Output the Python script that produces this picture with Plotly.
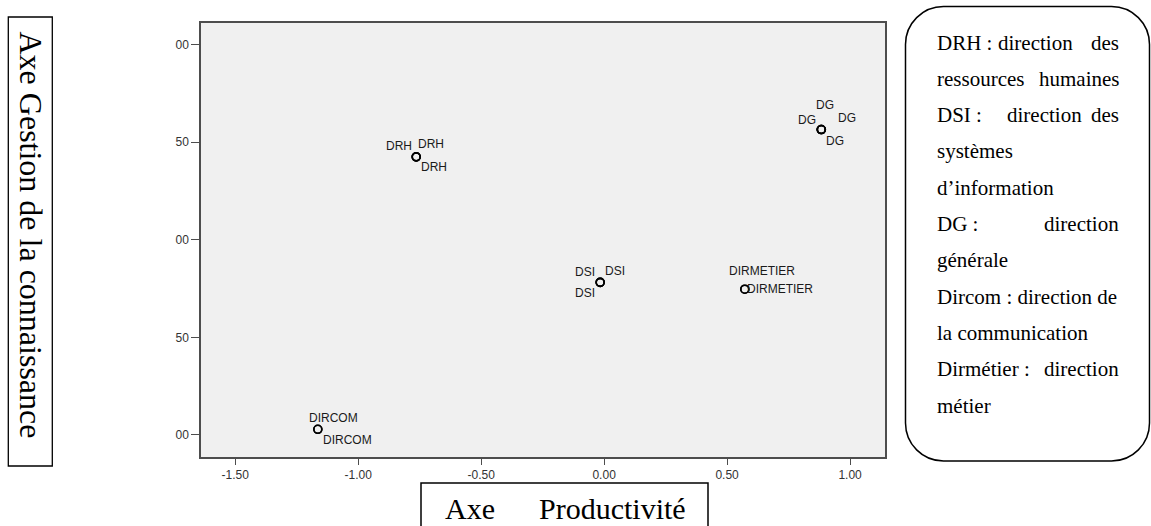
import plotly.graph_objects as go

# ---------------- data ----------------
groups = ["DRH", "DSI", "DG", "DIRCOM", "DIRMETIER"]
group_x = [-0.764, -0.016, 0.883, -1.164, 0.572]      # Axe Productivité
group_y = [0.425, -0.218, 0.565, -0.971, -0.253]      # Axe Gestion de la connaissance
group_cases = [3, 3, 4, 2, 2]                         # number of overlapping cases per group

x_tickvals = [-1.5, -1.0, -0.5, 0.0, 0.5, 1.0]
x_ticktext = ["-1.50", "-1.00", "-0.50", "0.00", "0.50", "1.00"]
y_tickvals = [1.0, 0.5, 0.0, -0.5, -1.0]
y_ticktext = ["00", "50", "00", "50", "00"]

legend_lines = [
    ["DRH :", "direction", "des"],
    ["ressources", "humaines"],
    ["DSI :", "direction", "des"],
    ["systèmes"],
    ["d\u2019information"],
    ["DG :", "direction"],
    ["générale"],
    ["Dircom : direction de"],
    ["la communication"],
    ["Dirmétier :", "direction"],
    ["métier"],
]
y_axis_title = "Axe Gestion de la connaissance"
x_axis_title = ["Axe", "Productivité"]

# ---------------- cases (one per label) ----------------
case_label, case_x, case_y = [], [], []
for g, gx, gy, n in zip(groups, group_x, group_y, group_cases):
    for _ in range(n):
        case_label.append(g)
        case_x.append(gx)
        case_y.append(gy)

# label offsets in screen pixels (styling: dx right, dy down)
label_offsets = [
    (-17.7, -10.5), (15.1, -12.4), (17.6, 10.1),              # DRH
    (-14.7, -10.0), (15.0, -11.8), (-14.7, 11.0),             # DSI
    (4.0, -25.0), (-14.0, -9.5), (25.6, -11.7), (14.0, 11.0), # DG
    (15.4, -11.3), (29.2, 11.2),                              # DIRCOM
    (16.7, -18.5), (35.3, 0.0),                               # DIRMETIER
]

# ---------------- layout geometry (pixels) ----------------
FW, FH = 1151, 526
L, R, T, B = 201, 885, 23, 457
W, H = R - L, B - T


def px(x):
    return (x - L) / W


def py(y):
    return (B - y) / H


fig = go.Figure()
fig.add_trace(go.Scatter(
    x=case_x, y=case_y, mode="markers",
    marker=dict(symbol="circle-open", size=8, color="black",
                line=dict(width=1.6, color="black")),
    hovertext=case_label, hoverinfo="text", showlegend=False,
))

annotations = []
label_font = dict(family="Liberation Sans, Arial, sans-serif", size=12, color="#1a1a1a")
for lab, cx, cy, (dx, dy) in zip(case_label, case_x, case_y, label_offsets):
    annotations.append(dict(
        x=cx, y=cy, xref="x", yref="y", text=lab, showarrow=False,
        xanchor="center", yanchor="middle", xshift=dx, yshift=-dy,
        font=label_font,
    ))

# legend box text (justified look)
serif = dict(family="Liberation Serif, Times New Roman, serif", size=21, color="black")
tx0, tx1 = 935, 1121
mid_pos = {0: 1035, 2: 1044}
for i, parts in enumerate(legend_lines):
    base = 49 + 36.3 * i
    yc = py(base - 6.5)
    annotations.append(dict(x=px(tx0), y=yc, xref="paper", yref="paper", text=parts[0],
                            showarrow=False, xanchor="left", yanchor="middle", font=serif))
    if len(parts) > 1:
        annotations.append(dict(x=px(tx1), y=yc, xref="paper", yref="paper", text=parts[-1],
                                showarrow=False, xanchor="right", yanchor="middle", font=serif))
    if len(parts) == 3:
        annotations.append(dict(x=px(mid_pos[i]), y=yc, xref="paper", yref="paper", text=parts[1],
                                showarrow=False, xanchor="center", yanchor="middle", font=serif))

# y-axis title box text (rotated)
annotations.append(dict(x=px(30.5), y=py(235), xref="paper", yref="paper", text=y_axis_title,
                        showarrow=False, textangle=90, xanchor="center", yanchor="middle",
                        font=dict(family="Liberation Serif, Times New Roman, serif", size=32, color="black")))
# x-axis title box text
big = dict(family="Liberation Serif, Times New Roman, serif", size=30, color="black")
annotations.append(dict(x=px(443), y=py(508), xref="paper", yref="paper", text=x_axis_title[0],
                        showarrow=False, xanchor="left", yanchor="middle", font=big))
annotations.append(dict(x=px(688), y=py(508), xref="paper", yref="paper", text=x_axis_title[1],
                        showarrow=False, xanchor="right", yanchor="middle", font=big))

# rounded legend box path
bx0, bx1, by0, by1, r = 905.5, 1149.5, 6.5, 461, 38
k = 0.5523


def P(x, y):
    return f"{px(x):.5f},{py(y):.5f}"


path = (
    f"M {P(bx0 + r, by0)} L {P(bx1 - r, by0)} "
    f"C {P(bx1 - r + k * r, by0)} {P(bx1, by0 + r - k * r)} {P(bx1, by0 + r)} "
    f"L {P(bx1, by1 - r)} "
    f"C {P(bx1, by1 - r + k * r)} {P(bx1 - r + k * r, by1)} {P(bx1 - r, by1)} "
    f"L {P(bx0 + r, by1)} "
    f"C {P(bx0 + r - k * r, by1)} {P(bx0, by1 - r + k * r)} {P(bx0, by1 - r)} "
    f"L {P(bx0, by0 + r)} "
    f"C {P(bx0, by0 + r - k * r)} {P(bx0 + r - k * r, by0)} {P(bx0 + r, by0)} Z"
)

shapes = [
    dict(type="rect", xref="paper", yref="paper", x0=px(8.3), x1=px(52.3), y0=py(466), y1=py(17),
         line=dict(color="black", width=1.3), fillcolor="rgba(0,0,0,0)", layer="above"),
    dict(type="rect", xref="paper", yref="paper", x0=px(421), x1=px(708), y0=py(540), y1=py(483),
         line=dict(color="black", width=1.5), fillcolor="rgba(0,0,0,0)", layer="above"),
    dict(type="path", xref="paper", yref="paper", path=path,
         line=dict(color="black", width=1.5), fillcolor="rgba(0,0,0,0)", layer="above"),
]

tickfont = dict(family="Liberation Sans, Arial, sans-serif", size=12, color="#333333")
fig.update_layout(
    width=FW, height=FH,
    margin=dict(l=L, r=FW - R, t=T, b=FH - B, pad=0),
    paper_bgcolor="white", plot_bgcolor="#f0f0f0",
    showlegend=False,
    annotations=annotations, shapes=shapes,
    xaxis=dict(range=[-1.639, 1.142], tickvals=x_tickvals, ticktext=x_ticktext,
               showgrid=False, zeroline=False, showline=True, mirror=True,
               linecolor="#4d4d4d", linewidth=1.5, ticks="outside", ticklen=6,
               tickcolor="#4d4d4d", tickwidth=1.3, tickfont=tickfont),
    yaxis=dict(range=[-1.113, 1.111], tickvals=y_tickvals, ticktext=y_ticktext,
               showgrid=False, zeroline=False, showline=True, mirror=True,
               linecolor="#4d4d4d", linewidth=1.5, ticks="outside", ticklen=8,
               tickcolor="#4d4d4d", tickwidth=1.3, tickfont=tickfont),
)

fig.write_html(
    "out.html",
    config={"displayModeBar": False},
    post_script="document.body.style.margin='0px';document.body.style.overflow='hidden';",
)
